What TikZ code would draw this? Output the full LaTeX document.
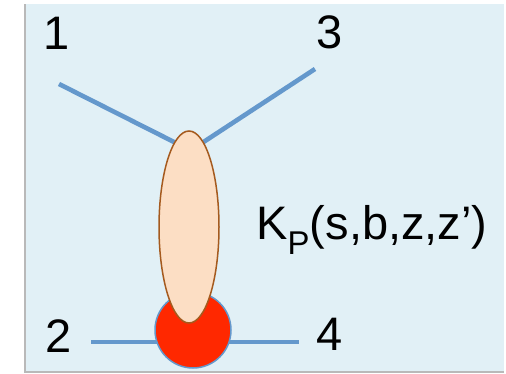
\documentclass[tikz,border=0pt]{standalone}
\usepackage{fontspec}
\setmainfont{Liberation Sans}
\usetikzlibrary{shapes.geometric}
\begin{document}
\begin{tikzpicture}[x=1pt, y=-1pt, font=\fontsize{47}{52}\selectfont]
			\definecolor{panelblue}{RGB}{225, 240, 246}
			\definecolor{legblue}{RGB}{100, 152, 204}
			\definecolor{peach}{RGB}{252, 222, 196}
			\definecolor{rimbrown}{RGB}{165, 90, 30}
			\definecolor{blobred}{RGB}{255, 40, 0}
			\tikzset{leg/.style={legblue, line width=4.6pt}}
			\useasboundingbox (0,0) rectangle (506,374);
			% panel with a thin shadow
			\fill[gray!55] (24,4) rectangle (504,373);
			\fill[panelblue] (26,4) rectangle (504,371);
			% external legs
			\coordinate (p1) at (59,84);
			\coordinate (p3) at (315,69);
			\coordinate (q1) at (176,143);
			\coordinate (q3) at (202,143);
			\coordinate (p2) at (91,342);
			\coordinate (p4) at (299,342);
			\draw[leg] (p1) -- (q1);
			\draw[leg] (p3) -- (q3);
			\draw[leg] (p2) -- (p4);
			% blob and kernel
			\node[circle, draw=legblue, line width=1.5pt, fill=blobred, minimum size=76pt, inner sep=0pt] (blob) at (193,330) {};
			\node[ellipse, draw=rimbrown, line width=1.5pt, fill=peach, minimum width=60pt, minimum height=192pt, inner sep=0pt] (kernel) at (189,227) {};
			% labels
			\node (l1) at (57,33) {1};
			\node (l3) at (330,32) {3};
			\node (l2) at (59,336) {2};
			\node (l4) at (330,334) {4};
			\node[anchor=base west, inner sep=0pt] (kp) at (256,240) {K\textsubscript{P}(s,b,z,z’)};
		\end{tikzpicture}
\end{document}
